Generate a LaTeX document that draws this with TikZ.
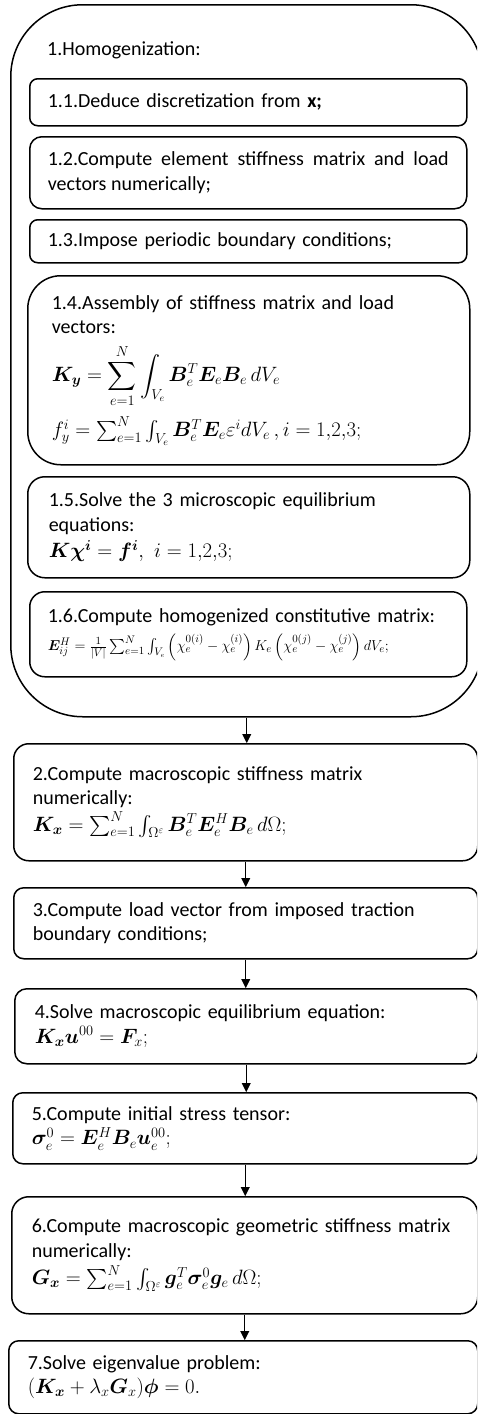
\documentclass[tikz,border=0pt]{standalone}
\usepackage{amsmath,amssymb,bm}
\usepackage{fontspec}
\setmainfont{Carlito}
\usetikzlibrary{arrows.meta,positioning}

\begin{document}
\begin{tikzpicture}[x=1pt, y=-1pt,
  every node/.style={font=\fontsize{20}{24.5}\selectfont},
  stepbox/.style={draw, line width=1.5pt, anchor=north west, inner ysep=0pt, align=left},
  substep/.style={stepbox, inner xsep=18pt, text width=401pt},
  flow/.style={line width=0.9pt, -{Triangle[length=9pt,width=9pt]}}]
  \path[use as bounding box, clip] (0,0) rectangle (477,1414);

  % Step 1: homogenization (outer frame with sub-steps)
  \node[draw, line width=1.5pt, anchor=north west, rounded corners=72pt, minimum width=472pt, minimum height=712pt] (homog) at (10,4) {};
  \node[anchor=west, inner sep=0pt] (homogtitle) at (47,50) {1.Homogenization:};
  \node[substep, rounded corners=8pt, minimum height=47pt] (sub1) at (29,78) {1.1.Deduce discretization from \textbf{x;}};
  \node[substep, rounded corners=12pt, minimum height=72pt, align=justify] (sub2) at (29,136) {1.2.Compute element stiffness matrix and load\linebreak vectors numerically;};
  \node[substep, rounded corners=8pt, minimum height=43pt] (sub3) at (29,219) {1.3.Impose periodic boundary conditions;};
  \node[stepbox, inner xsep=24pt, text width=394pt, rounded corners=33pt, minimum height=189pt] (sub4) at (27,275) {1.4.Assembly of stiffness matrix and load\\ vectors:\\[10pt]
    $\bm{K}_{\bm{y}} = \displaystyle\sum_{e=1}^{N}\int_{V_e}\bm{B}_e^T\bm{E}_e\bm{B}_e\,dV_e$\\[9pt]
    $f_y^i = \sum_{e=1}^{N}\int_{V_e}\bm{B}_e^T\bm{E}_e\varepsilon^i dV_e\,, i = 1{,}2{,}3;$};
  \node[stepbox, inner xsep=21pt, text width=400pt, rounded corners=17pt, minimum height=101pt] (sub5) at (27,476) {1.5.Solve the 3 microscopic equilibrium\\ equations:\\[2pt]
    $\bm{K}\bm{\chi}^{\bm{i}} = \bm{f}^{\bm{i}},\ i = 1{,}2{,}3;$};
  \node[substep, rounded corners=15pt, minimum height=85pt] (sub6) at (29,591) {1.6.Compute homogenized constitutive matrix:\\[4pt]
    {\fontsize{15}{18}\selectfont $\bm{E}^H_{ij} = \frac{1}{|V|}\sum_{e=1}^{N}\int_{V_e}\left(\chi_e^{0(i)}-\chi_e^{(i)}\right)K_e\left(\chi_e^{0(j)}-\chi_e^{(j)}\right)dV_e;$}};

  % Steps 2 to 7
  \node[stepbox, inner xsep=19pt, text width=426pt, rounded corners=15pt, minimum height=117pt] (step2) at (13,743) {2.Compute macroscopic stiffness matrix\\ numerically:\\[2pt]
    $\bm{K}_{\bm{x}} = \sum_{e=1}^{N}\int_{\Omega^\varepsilon}\bm{B}_e^T\bm{E}_e^H\bm{B}_e\,d\Omega;$};
  \node[stepbox, inner xsep=19pt, text width=426pt, rounded corners=10pt, minimum height=71pt] (step3) at (13,887) {3.Compute load vector from imposed traction\\ boundary conditions;};
  \node[stepbox, inner xsep=20pt, text width=423pt, rounded corners=12pt, minimum height=75pt] (step4) at (14,988) {4.Solve macroscopic equilibrium equation:\\
    $\bm{K}_{\bm{x}}\bm{u}^{00} = \bm{F}_x;$};
  \node[stepbox, inner xsep=19pt, text width=427pt, rounded corners=10pt, minimum height=71pt] (step5) at (12,1092) {5.Compute initial stress tensor:\\
    $\bm{\sigma}_e^0 = \bm{E}_e^H\bm{B}_e\bm{u}_e^{00};$};
  \node[stepbox, inner xsep=20pt, text width=426pt, rounded corners=17pt, minimum height=117pt] (step6) at (11,1196) {6.Compute macroscopic geometric stiffness matrix\\ numerically:\\[3pt]
    $\bm{G}_{\bm{x}} = \sum_{e=1}^{N}\int_{\Omega^\varepsilon}\bm{g}_e^T\bm{\sigma}_e^0\bm{g}_e\,d\Omega;$};
  \node[stepbox, inner xsep=19pt, text width=431pt, rounded corners=10pt, minimum height=73pt] (step7) at (8,1340) {7.Solve eigenvalue problem:\\
    $(\bm{K}_{\bm{x}} + \lambda_x\bm{G}_x)\bm{\phi} = 0.$};

  % connectors
  \draw[flow] (homog.south) -- (homog.south |- step2.north);
  \draw[flow] (step2.south) -- (step2.south |- step3.north);
  \draw[flow] (step3.south) -- (step3.south |- step4.north);
  \draw[flow] (step4.south) -- (step4.south |- step5.north);
  \draw[flow] (step5.south) -- (step5.south |- step6.north);
  \draw[flow] (step6.south) -- (step6.south |- step7.north);
\end{tikzpicture}
\end{document}
